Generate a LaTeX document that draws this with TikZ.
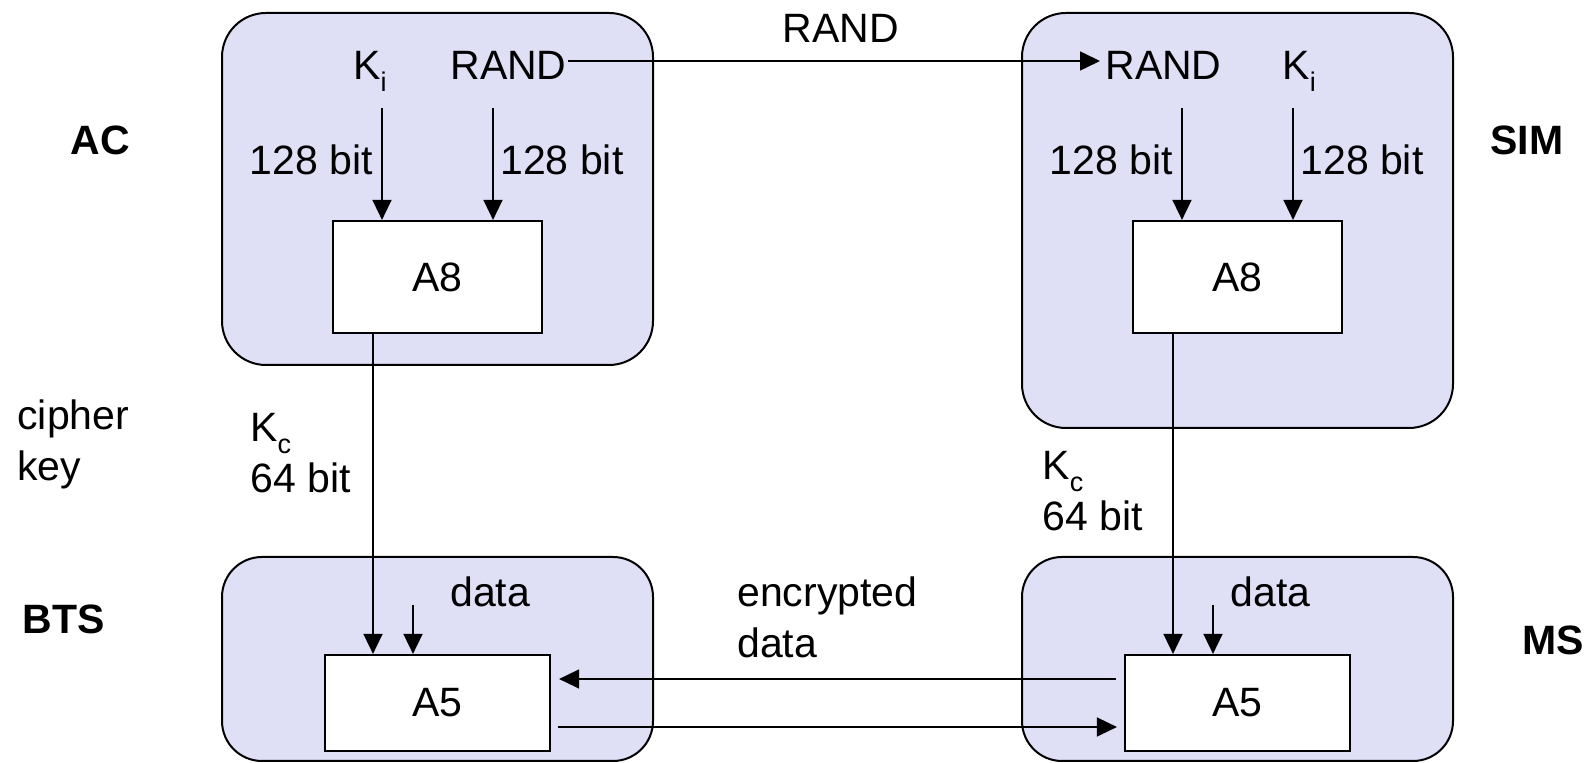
\documentclass[tikz,border=0pt]{standalone}
\usepackage{fontspec}
\setmainfont{Liberation Sans}
\usetikzlibrary{arrows.meta}
\definecolor{lav}{RGB}{223,223,246}
\newcommand\lsub[1]{\raisebox{-6pt}{\fontsize{13.5}{13.5}\selectfont #1}}
\newcommand\twol[2]{\begin{tabular}[t]{@{}l@{}}#1\\#2\end{tabular}}
\begin{document}
\begin{tikzpicture}[x=0.5pt,y=-0.5pt,
  font=\fontsize{20.5}{25.5}\selectfont,
  panel/.style={draw=black,line width=1pt,fill=lav,rounded corners=22pt,minimum width=215.5pt,inner sep=0pt},
  algbox/.style={draw=black,line width=1.1pt,fill=white,inner sep=0pt},
  lbl/.style={inner sep=0pt},
  side/.style={inner sep=0pt,font=\fontsize{20.5}{25.5}\selectfont\bfseries},
  arr/.style={line width=0.8pt,-{Triangle[length=10pt,width=9.5pt]}},
]
\useasboundingbox (0,0) rectangle (1592,763);
% panels
\node[panel,minimum height=176pt] (ac) at (437.5,189) {};
\node[panel,minimum height=207.5pt] (sim) at (1237.5,220.5) {};
\node[panel,minimum height=102pt,rounded corners=20pt] (bts) at (437.5,659) {};
\node[panel,minimum height=102pt,rounded corners=20pt] (ms) at (1237.5,659) {};
% algorithm boxes
\node[algbox,minimum width=104.5pt,minimum height=56pt] (a8L) at (437.5,277) {A8};
\node[algbox,minimum width=104.5pt,minimum height=56pt] (a8R) at (1237.5,277) {A8};
\node[algbox,minimum width=112.5pt,minimum height=48pt] (a5L) at (437.5,703) {A5};
\node[algbox,minimum width=112.5pt,minimum height=48pt] (a5R) at (1237.5,703) {A5};
% texts
\node[lbl,anchor=base west] (kiL) at (353,80) {K\lsub{i}};
\node[lbl,anchor=base west] (randL) at (450,80) {RAND};
\node[lbl,anchor=base west] (randR) at (1105,80) {RAND};
\node[lbl,anchor=base west] (kiR) at (1282,80) {K\lsub{i}};
\node[lbl,anchor=base east] (b1) at (373,175) {128 bit};
\node[lbl,anchor=base west] (b2) at (500,175) {128 bit};
\node[lbl,anchor=base east] (b3) at (1173,175) {128 bit};
\node[lbl,anchor=base west] (b4) at (1300,175) {128 bit};
\node[lbl,anchor=base] (randT) at (841,43) {RAND};
\node[lbl,anchor=base west] (dataL) at (450,607) {data};
\node[lbl,anchor=base west] (dataR) at (1230,607) {data};
\node[lbl,anchor=base west] (enc) at (737,607) {\twol{encrypted}{data}};
\node[lbl,anchor=base west] (ck) at (17,430) {\twol{cipher}{key}};
\node[lbl,anchor=base west] (kcL) at (250,442) {\twol{K\lsub{c}}{64 bit}};
\node[lbl,anchor=base west] (kcR) at (1042,480) {\twol{K\lsub{c}}{64 bit}};
\node[side,anchor=base west] (acl) at (70,155) {AC};
\node[side,anchor=base west] (siml) at (1490,155) {SIM};
\node[side,anchor=base west] (btsl) at (22,634) {BTS};
\node[side,anchor=base west] (msl) at (1522,655) {MS};
% connector anchors
\coordinate (kiLs) at (382,108);
\coordinate (rLs) at (493,108);
\coordinate (rRs) at (1182,108);
\coordinate (kiRs) at (1293,108);
\coordinate (rs) at (568,61);
\coordinate (kcLx) at (373,0);
\coordinate (kcRx) at (1173,0);
\coordinate (dL) at (413,605);
\coordinate (dR) at (1213,605);
\coordinate (h1) at (0,679);
\coordinate (h2) at (0,727);
% connectors
\draw[arr] (kiLs) -- (kiLs |- a8L.north);
\draw[arr] (rLs) -- (rLs |- a8L.north);
\draw[arr] (rRs) -- (rRs |- a8R.north);
\draw[arr] (kiRs) -- (kiRs |- a8R.north);
\draw[arr] (rs) -- ([xshift=-2.5pt]rs -| randR.west);
\draw[arr] (kcLx |- a8L.south) -- (kcLx |- a5L.north);
\draw[arr] (kcRx |- a8R.south) -- (kcRx |- a5R.north);
\draw[arr] (dL) -- (dL |- a5L.north);
\draw[arr] (dR) -- (dR |- a5R.north);
\draw[arr] ([xshift=-4pt]a5R.west |- h1) -- ([xshift=4pt]a5L.east |- h1);
\draw[arr] ([xshift=3.5pt]a5L.east |- h2) -- ([xshift=-3.5pt]a5R.west |- h2);
\end{tikzpicture}
\end{document}
